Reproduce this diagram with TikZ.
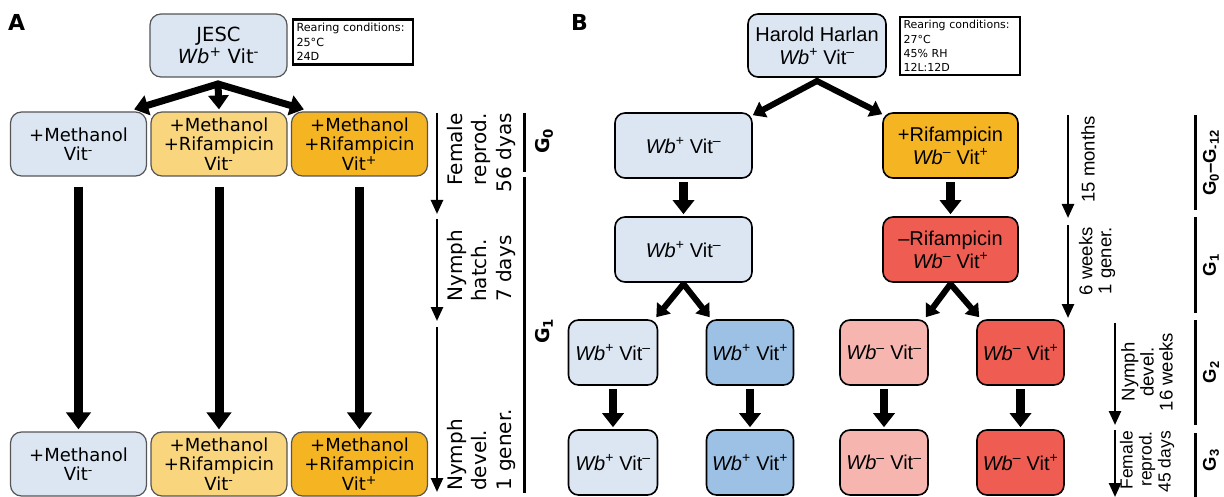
\documentclass[tikz,border=0pt]{standalone}
\usepackage{fontspec}
\setmainfont{DejaVu Sans}
\newfontfamily\dejavu{DejaVu Sans}
\newfontfamily\arial{Liberation Sans}
\usetikzlibrary{arrows.meta}
\definecolor{lblue}{RGB}{220,230,242}
\definecolor{ayellow}{RGB}{249,214,125}
\definecolor{aorange}{RGB}{245,181,35}
\definecolor{bblue}{RGB}{157,193,228}
\definecolor{bred}{RGB}{239,92,82}
\definecolor{bpink}{RGB}{246,181,174}
\definecolor{agray}{RGB}{85,85,85}
\begin{document}
\begin{tikzpicture}[x=1pt,y=-1pt,
  abox/.style={draw=agray, line width=1.2pt, rounded corners=11pt, align=center, inner sep=0pt, minimum height=64pt, minimum width=136pt, font=\dejavu\fontsize{18}{19.6}\selectfont},
  bbox/.style={draw=black, line width=1.6pt, rounded corners=10pt, align=center, inner sep=0pt, minimum height=65pt, font=\arial\fontsize{20}{23}\selectfont},
  reara/.style={draw=black, line width=2.5pt, text width=113pt, inner sep=3.5pt, align=left, font=\dejavu\fontsize{11.2}{14.5}\selectfont},
  rearb/.style={draw=black, line width=2.2pt, text width=113pt, inner sep=3.5pt, align=left, font=\dejavu\fontsize{11}{14.3}\selectfont},
  adiag/.style={line width=7pt, line cap=round, -{Triangle[width=20pt,length=14pt]}},
  avert/.style={line width=9pt, -{Triangle[width=24pt,length=17pt]}},
  bdiag/.style={line width=6pt, line cap=round, -{Triangle[width=17pt,length=12pt]}},
  bvert/.style={line width=8.5pt, -{Triangle[width=21pt,length=14pt]}},
  tarrow/.style={line width=2.5pt, -{Triangle[width=12pt,length=14pt]}},
  gline/.style={line width=3pt},
  ttexta/.style={rotate=90, inner sep=0pt, font=\dejavu\fontsize{20}{24.5}\selectfont},
  ttextb/.style={rotate=90, inner sep=0pt, font=\arial\fontsize{18.5}{19}\selectfont},
  glabela/.style={rotate=90, inner sep=0pt, font=\dejavu\bfseries\fontsize{19}{19}\selectfont},
  glabelb/.style={rotate=90, inner sep=0pt, font=\arial\bfseries\fontsize{18.5}{18.5}\selectfont},
  panel/.style={anchor=north west, inner sep=0pt, font=\dejavu\bfseries\fontsize{22}{22}\selectfont}
]
\useasboundingbox (0,0) rectangle (1224,497);

% ---------------- Panel A ----------------
\node[panel] (labA) at (8,14) {A};
\node[abox, fill=lblue, minimum width=137pt, minimum height=63pt, font=\dejavu\fontsize{19.5}{22}\selectfont] (jesc) at (218.5,45.5) {JESC\\\textit{Wb}\textsuperscript{+} Vit\textsuperscript{-}};
\node[reara] (rearA) at (353,42) {Rearing conditions:\\25°C\\24D};

\node[abox, fill=lblue] (a11) at (78.5,144) {+Methanol\\Vit\textsuperscript{-}};
\node[abox, fill=ayellow] (a12) at (219,144) {+Methanol\\+Rifampicin\\Vit\textsuperscript{-}};
\node[abox, fill=aorange] (a13) at (359.5,144) {+Methanol\\+Rifampicin\\Vit\textsuperscript{+}};

\node[abox, fill=lblue] (a21) at (78.5,464) {+Methanol\\Vit\textsuperscript{-}};
\node[abox, fill=ayellow] (a22) at (219,464) {+Methanol\\+Rifampicin\\Vit\textsuperscript{-}};
\node[abox, fill=aorange] (a23) at (359.5,464) {+Methanol\\+Rifampicin\\Vit\textsuperscript{+}};

\coordinate (asplit) at (218,84);
\draw[adiag] (asplit) -- ([xshift=-13pt,yshift=2pt]a11.north east);
\draw[adiag] (asplit) -- ([yshift=2pt]a12.north);
\draw[adiag] (asplit) -- ([xshift=13pt,yshift=2pt]a13.north west);

\draw[avert] ([yshift=-10pt]a11.south) -- ([yshift=2pt]a21.north);
\draw[avert] ([yshift=-10pt]a12.south) -- ([yshift=2pt]a22.north);
\draw[avert] ([yshift=-10pt]a13.south) -- ([yshift=2pt]a23.north);

% timeline A
\coordinate (ta1) at (437,113);
\coordinate (ta2) at (437,214);
\coordinate (ta3) at (437,219);
\coordinate (ta4) at (437,321);
\coordinate (ta5) at (437,327);
\coordinate (ta6) at (437,492);
\draw[tarrow] (ta1) -- (ta2);
\draw[tarrow] (ta3) -- (ta4);
\draw[tarrow] (ta5) -- (ta6);
\node[ttexta, align=right, anchor=east] (tta1) at (481,113) {Female\\reprod.\\56 dyas};
\node[ttexta, align=left, anchor=west] (tta2) at (481,302) {Nymph\\hatch.\\7 days};
\node[ttexta, align=left, anchor=west] (tta3) at (481,491) {Nymph\\devel.\\1 gener.};

\coordinate (ga1) at (524,113);
\coordinate (ga2) at (524,172);
\coordinate (ga3) at (524,177);
\coordinate (ga4) at (524,493);
\draw[gline] (ga1) -- (ga2);
\draw[gline] (ga3) -- (ga4);
\node[glabela] (g0a) at (544,141) {G\textsubscript{0}};
\node[glabela] (g1a) at (544,331) {G\textsubscript{1}};

% ---------------- Panel B ----------------
\node[panel] (labB) at (571,14) {B};
\node[bbox, fill=lblue, minimum width=138pt, minimum height=63pt] (hh) at (817,45.5) {Harold Harlan\\\textit{Wb}\textsuperscript{+} Vit\textsuperscript{\textendash}};
\node[rearb] (rearB) at (960,46) {Rearing conditions:\\27°C\\45\% RH\\12L:12D};

\node[bbox, fill=lblue, minimum width=137pt] (b11) at (683.5,145.5) {\textit{Wb}\textsuperscript{+} Vit\textsuperscript{\textendash}};
\node[bbox, fill=aorange, minimum width=135pt] (b12) at (950.5,145.5) {+Rifampicin\\\textit{Wb}\textsuperscript{\textendash} Vit\textsuperscript{+}};

\node[bbox, fill=lblue, minimum width=137pt] (b21) at (683.5,249.5) {\textit{Wb}\textsuperscript{+} Vit\textsuperscript{\textendash}};
\node[bbox, fill=bred, minimum width=135pt] (b22) at (950.5,249.5) {\textendash Rifampicin\\\textit{Wb}\textsuperscript{\textendash} Vit\textsuperscript{+}};

\node[bbox, fill=lblue, minimum width=89pt] (b31) at (613,352.5) {\textit{Wb}\textsuperscript{+} Vit\textsuperscript{\textendash}};
\node[bbox, fill=bblue, minimum width=87pt] (b32) at (750,352.5) {\textit{Wb}\textsuperscript{+} Vit\textsuperscript{+}};
\node[bbox, fill=bpink, minimum width=88pt] (b33) at (884,352.5) {\textit{Wb}\textsuperscript{\textendash} Vit\textsuperscript{\textendash}};
\node[bbox, fill=bred, minimum width=87pt] (b34) at (1020.5,352.5) {\textit{Wb}\textsuperscript{\textendash} Vit\textsuperscript{+}};

\node[bbox, fill=lblue, minimum width=89pt] (b41) at (613,462.5) {\textit{Wb}\textsuperscript{+} Vit\textsuperscript{\textendash}};
\node[bbox, fill=bblue, minimum width=87pt] (b42) at (750,462.5) {\textit{Wb}\textsuperscript{+} Vit\textsuperscript{+}};
\node[bbox, fill=bpink, minimum width=88pt] (b43) at (884,462.5) {\textit{Wb}\textsuperscript{\textendash} Vit\textsuperscript{\textendash}};
\node[bbox, fill=bred, minimum width=87pt] (b44) at (1020.5,462.5) {\textit{Wb}\textsuperscript{\textendash} Vit\textsuperscript{+}};

\coordinate (bsplit) at (817,81);
\draw[bdiag] (bsplit) -- ([yshift=-3pt]b11.north east);
\draw[bdiag] (bsplit) -- ([yshift=-2pt]b12.north west);

\draw[bvert] ([yshift=-3pt]b11.south) -- ([yshift=2pt]b21.north);
\draw[bvert] ([yshift=-3pt]b12.south) -- ([yshift=2pt]b22.north);

\coordinate (bsplitl) at (683.5,284);
\coordinate (bsplitr) at (950.5,284);
\draw[bdiag] (bsplitl) -- ([xshift=-2pt,yshift=2pt]b31.north east);
\draw[bdiag] (bsplitl) -- ([xshift=4pt,yshift=2pt]b32.north west);
\draw[bdiag] (bsplitr) -- ([xshift=-3pt,yshift=2pt]b33.north east);
\draw[bdiag] (bsplitr) -- ([xshift=3pt,yshift=2pt]b34.north west);

\draw[bvert] ([yshift=-3pt]b31.south) -- ([yshift=2pt]b41.north);
\draw[bvert] ([yshift=-3pt]b32.south) -- ([yshift=2pt]b42.north);
\draw[bvert] ([yshift=-3pt]b33.south) -- ([yshift=2pt]b43.north);
\draw[bvert] ([yshift=-3pt]b34.south) -- ([yshift=2pt]b44.north);

% timeline B
\coordinate (tb1) at (1068,115);
\coordinate (tb2) at (1068,218);
\coordinate (tb3) at (1068,225);
\coordinate (tb4) at (1068,318);
\coordinate (tb5) at (1115,323);
\coordinate (tb6) at (1115,425);
\coordinate (tb7) at (1115,430);
\coordinate (tb8) at (1115,497);
\draw[tarrow] (tb1) -- (tb2);
\draw[tarrow] (tb3) -- (tb4);
\draw[tarrow] (tb5) -- (tb6);
\draw[tarrow] (tb7) -- (tb8);
\node[ttextb, align=right, anchor=east] (ttb1) at (1088,116) {15 months};
\node[ttextb, align=right, anchor=east] (ttb2) at (1097,227) {6 weeks\\1 gener.};
\node[ttextb, align=center] (ttb3) at (1147,372) {Nymph\\devel.\\16 weeks};
\node[ttextb, align=right, anchor=east, font=\arial\fontsize{17.5}{19}\selectfont] (ttb4) at (1147,431) {Female\\reprod.\\45 days};

\coordinate (gb1) at (1195,115);
\coordinate (gb2) at (1195,210);
\coordinate (gb3) at (1195,217);
\coordinate (gb4) at (1195,313);
\coordinate (gb5) at (1195,320);
\coordinate (gb6) at (1195,425);
\coordinate (gb7) at (1195,433);
\coordinate (gb8) at (1195,497);
\draw[gline] (gb1) -- (gb2);
\draw[gline] (gb3) -- (gb4);
\draw[gline] (gb5) -- (gb6);
\draw[gline] (gb7) -- (gb8);
\node[glabelb] (g0b) at (1211,163) {G\textsubscript{0}\textendash G\textsubscript{-12}};
\node[glabelb] (g1b) at (1211,265) {G\textsubscript{1}};
\node[glabelb] (g2b) at (1211,372) {G\textsubscript{2}};
\node[glabelb] (g3b) at (1211,460) {G\textsubscript{3}};
\end{tikzpicture}
\end{document}
